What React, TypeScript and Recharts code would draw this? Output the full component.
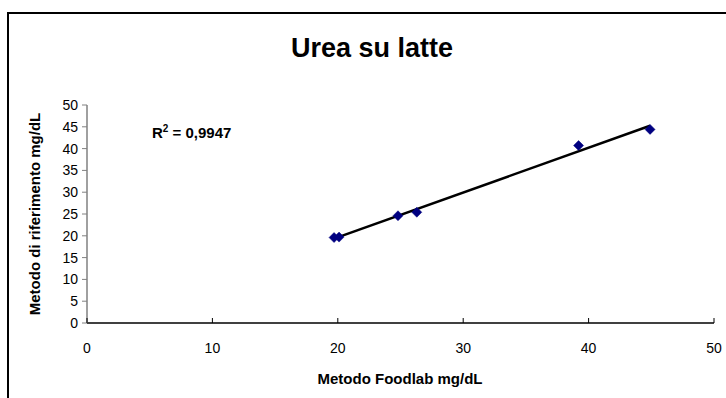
import { ScatterChart, Scatter, XAxis, YAxis, ReferenceLine } from 'recharts';

const foodlab = [19.7, 20.1, 24.8, 26.3, 39.2, 44.9];
const riferimento = [19.6, 19.7, 24.6, 25.4, 40.7, 44.4];
const xTicks = [0, 10, 20, 30, 40, 50];
const yTicks = [0, 5, 10, 15, 20, 25, 30, 35, 40, 45, 50];

const points = foodlab.map((x, i) => ({ x, y: riferimento[i] }));

// least-squares trendline through the points
const n = points.length;
const mx = foodlab.reduce((a, b) => a + b, 0) / n;
const my = riferimento.reduce((a, b) => a + b, 0) / n;
const slope =
  points.reduce((s, p) => s + (p.x - mx) * (p.y - my), 0) /
  points.reduce((s, p) => s + (p.x - mx) ** 2, 0);
const intercept = my - slope * mx;
const xMin = Math.min(...foodlab);
const xMax = Math.max(...foodlab);
const trend = [
  { x: xMin, y: intercept + slope * xMin },
  { x: xMax, y: intercept + slope * xMax },
];

const FONT = 'Arial, "Liberation Sans", Helvetica, sans-serif';

const Diamond = (props: any) => {
  const { cx, cy } = props;
  const r = 5;
  return (
    <path
      d={`M${cx},${cy - r} L${cx + r},${cy} L${cx},${cy + r} L${cx - r},${cy} Z`}
      fill="#000080"
      stroke="#000080"
      strokeWidth={0.5}
    />
  );
};

const XTick = (props: any) => {
  const { x, y, payload } = props;
  const axisY = y - 20;
  return (
    <g>
      <line x1={x} x2={x} y1={axisY} y2={axisY - 5} stroke="#000" strokeWidth={1} />
      <text x={x} y={y} dy="0.71em" textAnchor="middle" fontSize={14} fontFamily={FONT} fill="#000">
        {payload.value}
      </text>
    </g>
  );
};

export default function App() {
  return (
    <div style={{ position: 'absolute', left: 0, top: 0, width: 726, height: 398, background: '#fff', overflow: 'hidden' }}>
      <div
        style={{
          position: 'absolute',
          left: 7,
          top: 12,
          width: 740,
          height: 400,
          borderLeft: '2px solid #000',
          borderTop: '2px solid #000',
        }}
      />
      <div style={{ position: 'absolute', left: 0, top: 0 }}>
        <ScatterChart width={726} height={398} margin={{ top: 105, right: 12, bottom: 0, left: 0 }}>
          <XAxis
            type="number"
            dataKey="x"
            domain={[0, 50]}
            ticks={xTicks}
            interval={0}
            height={75}
            axisLine={{ stroke: '#000', strokeWidth: 1.5 }}
            tickLine={false}
            tickSize={6}
            tickMargin={14}
            tick={<XTick />}
          />
          <YAxis
            type="number"
            dataKey="y"
            domain={[0, 50]}
            ticks={yTicks}
            interval={0}
            width={87}
            axisLine={{ stroke: '#808080', strokeWidth: 1.5 }}
            tickLine={{ stroke: '#808080' }}
            tickSize={5}
            tickMargin={4}
            tick={{ fontSize: 14, fill: '#000', fontFamily: FONT }}
          />
          <Scatter data={points} shape={<Diamond />} isAnimationActive={false} />
          <ReferenceLine
            segment={trend}
            stroke="#000"
            strokeWidth={2.5}
            ifOverflow="visible"
          />
        </ScatterChart>
      </div>
      <svg width={726} height={398} style={{ position: 'absolute', left: 0, top: 0, pointerEvents: 'none' }}>
        <text x={372} y={57} textAnchor="middle" fontSize={27} fontWeight="bold" fontFamily={FONT} fill="#000">
          Urea su latte
        </text>
        <text x={152} y={138} fontSize={15} fontWeight="bold" fontFamily={FONT} fill="#000">
          R
          <tspan fontSize={10} dy={-6}>2</tspan>
          <tspan dy={6}> = 0,9947</tspan>
        </text>
        <text x={400} y={384} textAnchor="middle" fontSize={15} fontWeight="bold" fontFamily={FONT} fill="#000">
          Metodo Foodlab mg/dL
        </text>
        <text
          x={40}
          y={214}
          textAnchor="middle"
          transform="rotate(-90 40 214)"
          fontSize={15}
          fontWeight="bold"
          fontFamily={FONT}
          fill="#000"
        >
          Metodo di riferimento mg/dL
        </text>
      </svg>
    </div>
  );
}
